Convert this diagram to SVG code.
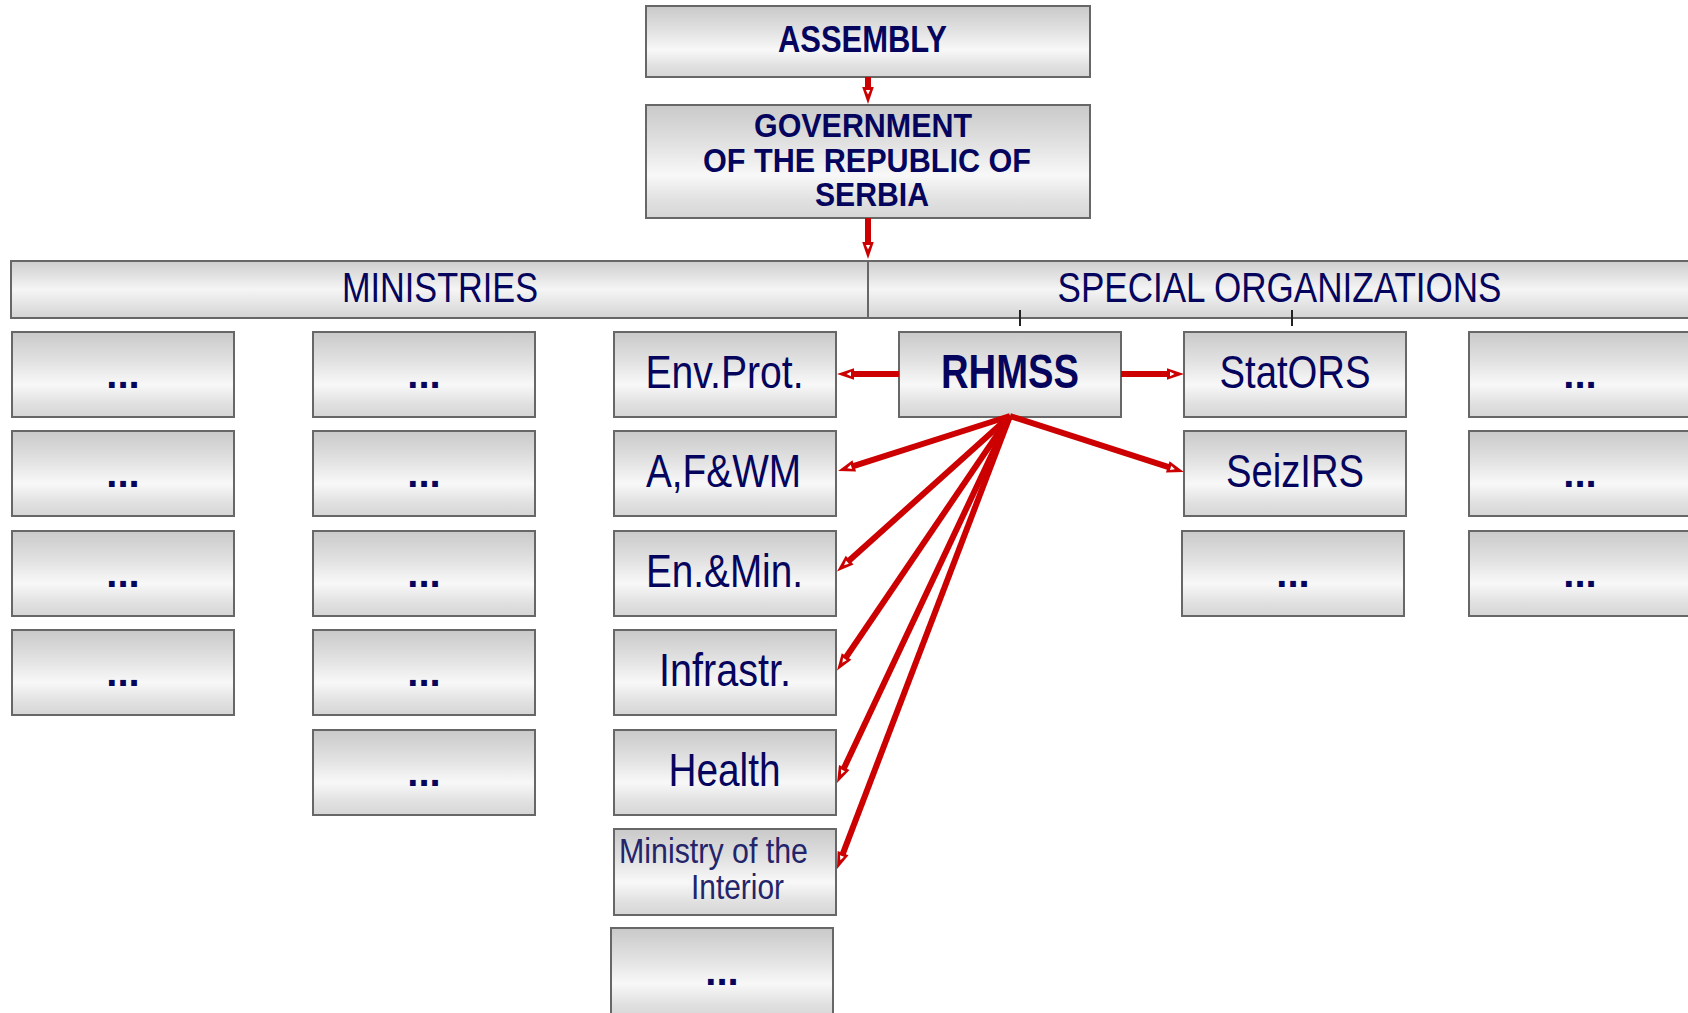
<svg xmlns="http://www.w3.org/2000/svg" width="1688" height="1013" viewBox="0 0 1688 1013">
<defs>
<linearGradient id="g" x1="0" y1="0" x2="0" y2="1">
<stop offset="0" stop-color="#c9c9c9"/>
<stop offset="0.35" stop-color="#e2e2e2"/>
<stop offset="0.62" stop-color="#f8f8f8"/>
<stop offset="0.85" stop-color="#e0e0e0"/>
<stop offset="1" stop-color="#d6d6d6"/>
</linearGradient>
<linearGradient id="gb" x1="0" y1="0" x2="0" y2="1">
<stop offset="0" stop-color="#cdcdcd"/>
<stop offset="0.5" stop-color="#f5f5f5"/>
<stop offset="1" stop-color="#d4d4d4"/>
</linearGradient>
<marker id="ah" markerUnits="userSpaceOnUse" viewBox="0 -7 18 14" markerWidth="18" markerHeight="14" refX="0" refY="0" orient="auto" overflow="visible">
<path d="M-1,-5.8 L16,0 L-1,5.8 z" fill="#cc0000"/>
<path d="M2,-2.2 L6.5,0 L2,2.2 z" fill="#ffffff"/>
</marker>
</defs>
<style>
.box{fill:url(#g);stroke:#676767;stroke-width:2}
.bar{fill:url(#gb);stroke:#676767;stroke-width:2}
.t{font-family:"Liberation Sans Narrow","Liberation Sans",Arial,sans-serif;fill:#05055e;text-anchor:middle}
.b{font-weight:bold}
.dots{font-family:"Liberation Sans",Arial,sans-serif;font-weight:bold;font-size:40px;fill:#05055e;text-anchor:middle}
.c{stroke:#cc0000;stroke-width:6;fill:none;marker-end:url(#ah)}
.tick{stroke:#222;stroke-width:2}
</style>

<g id="assembly">
<rect class="box" x="646" y="6" width="444" height="71"/>
<text class="t b" x="862.5" y="52" font-size="36" textLength="169" lengthAdjust="spacingAndGlyphs">ASSEMBLY</text>
</g>
<g id="government">
<rect class="box" x="646" y="105" width="444" height="113"/>
<text class="t b" x="863" y="137" font-size="33" textLength="218" lengthAdjust="spacingAndGlyphs">GOVERNMENT</text>
<text class="t b" x="867" y="172" font-size="33" textLength="328" lengthAdjust="spacingAndGlyphs">OF THE REPUBLIC OF</text>
<text class="t b" x="872" y="206" font-size="33" textLength="114" lengthAdjust="spacingAndGlyphs">SERBIA</text>
</g>
<g id="bar">
<rect class="bar" x="11" y="261" width="1700" height="57"/>
<line x1="868" y1="261" x2="868" y2="318" stroke="#676767" stroke-width="2"/>
<text class="t" x="440" y="302" font-size="43" textLength="196" lengthAdjust="spacingAndGlyphs">MINISTRIES</text>
<text class="t" x="1279.5" y="302" font-size="43" textLength="444" lengthAdjust="spacingAndGlyphs">SPECIAL ORGANIZATIONS</text>
<line class="tick" x1="1020" y1="310" x2="1020" y2="326"/>
<line class="tick" x1="1292" y1="310" x2="1292" y2="326"/>
</g>

<g id="m1-1"><rect class="box" x="12" y="332" width="222" height="85"/><text class="dots" x="123" y="388">...</text></g>
<g id="m1-2"><rect class="box" x="12" y="431" width="222" height="85"/><text class="dots" x="123" y="487">...</text></g>
<g id="m1-3"><rect class="box" x="12" y="531" width="222" height="85"/><text class="dots" x="123" y="587">...</text></g>
<g id="m1-4"><rect class="box" x="12" y="630" width="222" height="85"/><text class="dots" x="123" y="686">...</text></g>

<g id="m2-1"><rect class="box" x="313" y="332" width="222" height="85"/><text class="dots" x="424" y="388">...</text></g>
<g id="m2-2"><rect class="box" x="313" y="431" width="222" height="85"/><text class="dots" x="424" y="487">...</text></g>
<g id="m2-3"><rect class="box" x="313" y="531" width="222" height="85"/><text class="dots" x="424" y="587">...</text></g>
<g id="m2-4"><rect class="box" x="313" y="630" width="222" height="85"/><text class="dots" x="424" y="686">...</text></g>
<g id="m2-5"><rect class="box" x="313" y="730" width="222" height="85"/><text class="dots" x="424" y="786">...</text></g>

<g id="envprot"><rect class="box" x="614" y="332" width="222" height="85"/><text class="t" x="724.5" y="388" font-size="46" textLength="158" lengthAdjust="spacingAndGlyphs">Env.Prot.</text></g>
<g id="afwm"><rect class="box" x="614" y="431" width="222" height="85"/><text class="t" x="723.5" y="487" font-size="46" textLength="155" lengthAdjust="spacingAndGlyphs">A,F&amp;WM</text></g>
<g id="enmin"><rect class="box" x="614" y="531" width="222" height="85"/><text class="t" x="724.5" y="587" font-size="46" textLength="157" lengthAdjust="spacingAndGlyphs">En.&amp;Min.</text></g>
<g id="infrastr"><rect class="box" x="614" y="630" width="222" height="85"/><text class="t" x="725" y="686" font-size="46" textLength="132" lengthAdjust="spacingAndGlyphs">Infrastr.</text></g>
<g id="health"><rect class="box" x="614" y="730" width="222" height="85"/><text class="t" x="724.5" y="786" font-size="46" textLength="112" lengthAdjust="spacingAndGlyphs">Health</text></g>
<g id="interior"><rect class="box" x="614" y="829" width="222" height="86"/>
<text class="t" x="713.5" y="863" font-size="35" style="fill:#24246a" textLength="189" lengthAdjust="spacingAndGlyphs">Ministry of the</text>
<text class="t" x="737.5" y="899" font-size="35" style="fill:#24246a" textLength="93" lengthAdjust="spacingAndGlyphs">Interior</text></g>
<g id="m3-7"><rect class="box" x="611" y="928" width="222" height="90"/><text class="dots" x="722" y="985">...</text></g>

<g id="rhmss"><rect class="box" x="899" y="332" width="222" height="85"/><text class="t b" x="1010" y="388" font-size="48" textLength="138" lengthAdjust="spacingAndGlyphs">RHMSS</text></g>

<g id="stators"><rect class="box" x="1184" y="332" width="222" height="85"/><text class="t" x="1295" y="388" font-size="46" textLength="151" lengthAdjust="spacingAndGlyphs">StatORS</text></g>
<g id="seizirs"><rect class="box" x="1184" y="431" width="222" height="85"/><text class="t" x="1295" y="487" font-size="46" textLength="138" lengthAdjust="spacingAndGlyphs">SeizIRS</text></g>
<g id="s1-3"><rect class="box" x="1182" y="531" width="222" height="85"/><text class="dots" x="1293" y="587">...</text></g>

<g id="s2-1"><rect class="box" x="1469" y="332" width="222" height="85"/><text class="dots" x="1580" y="388">...</text></g>
<g id="s2-2"><rect class="box" x="1469" y="431" width="222" height="85"/><text class="dots" x="1580" y="487">...</text></g>
<g id="s2-3"><rect class="box" x="1469" y="531" width="222" height="85"/><text class="dots" x="1580" y="587">...</text></g>

<g id="connectors">
<path class="c" d="M868,77 L868,88"/>
<path class="c" d="M868,218 L868,243"/>
<path class="c" d="M899,374 L853,374"/>
<path class="c" d="M1121,374 L1168,374"/>
<path class="c" d="M1010,416 L853.3,466.2"/>
<path class="c" d="M1010,416 L1168.7,467.2"/>
<path class="c" d="M1010,416 L848.9,560.8"/>
<path class="c" d="M1010,416 L846,657.3"/>
<path class="c" d="M1010,416 L843.8,768.5"/>
<path class="c" d="M1010,416 L842.7,854.1"/>
</g>
</svg>
